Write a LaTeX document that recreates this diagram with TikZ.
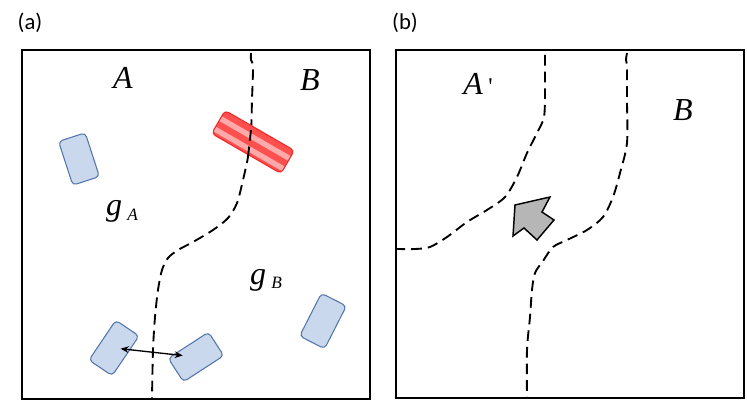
\documentclass[tikz,border=0pt]{standalone}
\usepackage{fontspec}
\setmainfont{Liberation Serif}
\newfontfamily\panelfont{Carlito}
\usepackage{tikz}
\usepackage{xcolor}
\usetikzlibrary{arrows.meta,positioning,calc}
\definecolor{cellblue}{RGB}{201,216,236}
\definecolor{celledge}{RGB}{84,118,170}
\definecolor{hotred}{RGB}{255,80,80}
\definecolor{hotedge}{RGB}{240,40,40}
\definecolor{hotstripe}{RGB}{255,170,170}
\definecolor{pushgray}{RGB}{182,182,182}

\tikzset{
  frame/.style={line width=1.5pt},
  border/.style={line width=1.4pt, dash pattern=on 8pt off 4.5pt},
  cell/.style={draw=celledge, fill=cellblue, line width=0.8pt, rounded corners=3pt, inner sep=0pt},
  region/.style={font=\fontsize{24}{28}\selectfont\itshape},
  panel/.style={font=\panelfont\fontsize{17}{20}\selectfont}
}

\begin{document}
\begin{tikzpicture}[x=0.75pt, y=-0.75pt, >=Latex]
  \useasboundingbox (0,0) rectangle (747,402);

  % panel (a)
  \node[panel] (la) at (30,23) {(a)};
  \draw[frame] (22,50) rectangle (370,399);
  \node[region] (ra) at (123,78) {A};
  \node[region] (rb) at (310,80) {B};
  \node[region] (ga) at (122,211) {g\,\raisebox{-0.35ex}{\fontsize{13}{14}\selectfont A}};
  \node[region] (gb) at (266,280) {g\,\raisebox{-0.3ex}{\fontsize{13}{14}\selectfont B}};

  \node[cell, minimum width=21pt, minimum height=34.5pt, rotate=18] (c1) at (79,159) {};
  \node[cell, minimum width=21pt, minimum height=36pt, rotate=-34] (c2) at (114,348) {};
  \node[cell, minimum width=36pt, minimum height=21pt, rotate=33] (c3) at (196,357) {};
  \node[cell, minimum width=21pt, minimum height=36pt, rotate=-27] (c4) at (323,321) {};

  \draw[border] plot[smooth] coordinates {(251,53) (251,60) (253,67) (252,100) (251,133) (248,157)
    (243,180) (237,203) (228,218) (213,230) (193,242) (178,250) (168,258) (162,270)
    (158,290) (155,317) (153,350) (152,398)};

  \node[draw=hotedge, fill=hotred, line width=0.8pt, rounded corners=3pt, inner sep=0pt,
    minimum width=60pt, minimum height=20pt, rotate=-30,
    path picture={
      \foreach \s in {-15,-6,3,12} {
        \fill[hotstripe, rotate=14] (-40pt,\s pt-2pt) rectangle (40pt,\s pt+2pt);
      }
    }] (hot) at (253,142) {};
  \draw[border] (251,130) -- (248,157);

  \draw[<->, line width=1pt, >={Stealth[length=6pt,width=5pt]}, shorten <=5pt, shorten >=10pt]
    (c2.center) -- (c3.center);

  % panel (b)
  \node[panel] (lb) at (405,23) {(b)};
  \draw[frame] (396,50) rectangle (744,398);
  \node[region] (rap) at (478,84) {A\,\upshape\fontsize{18}{20}\selectfont\textquotesingle};
  \node[region] (rb2) at (683,110) {B};

  \draw[border] plot[smooth] coordinates {(545,55) (545,90) (544,117) (537,133) (527,153)
    (517,177) (505,197) (487,210) (467,222) (447,237) (430,247) (415,249) (397,249)};
  \draw[border] plot[smooth] coordinates {(627,53) (626,60) (627,67) (627,100) (627,143)
    (620,173) (613,197) (603,217) (587,230) (567,240) (553,247) (543,261) (535,273)
    (532,290) (530,317) (527,350) (527,398)};

  \draw[fill=pushgray, line width=1.1pt, line join=miter]
    (515,205) -- (550,197) -- (542,212) -- (554,220) -- (537,240) -- (524,228) -- (513,236) -- cycle;
\end{tikzpicture}
\end{document}
